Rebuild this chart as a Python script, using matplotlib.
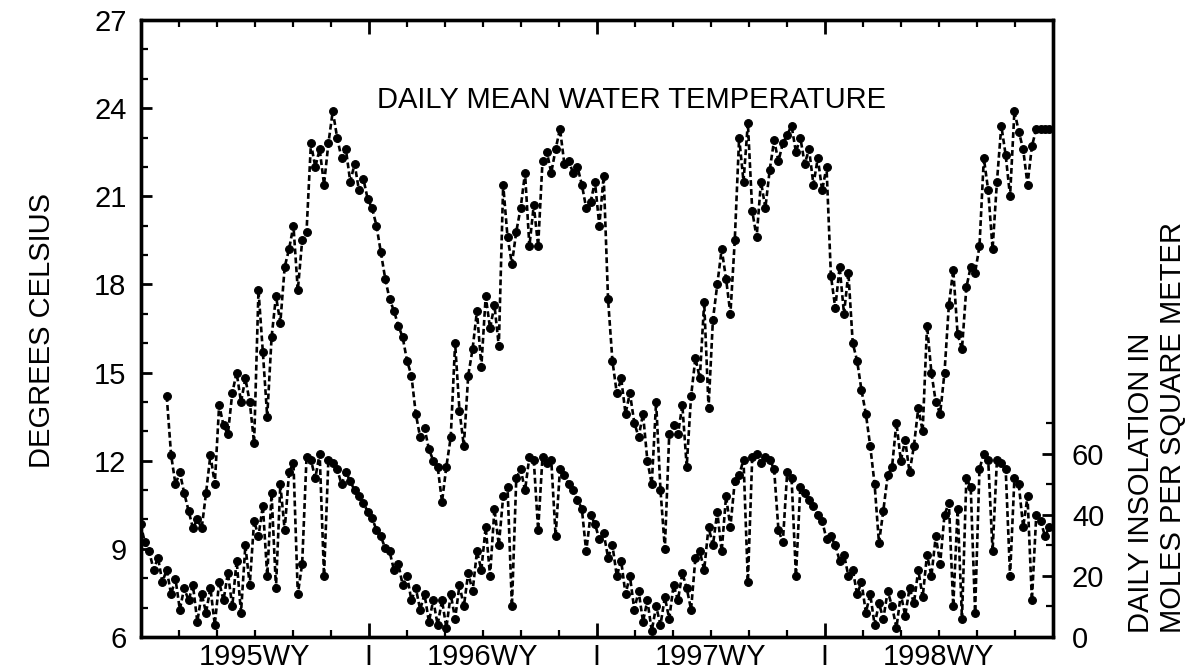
import matplotlib
matplotlib.use("Agg")
import matplotlib.pyplot as plt
import numpy as np
from matplotlib import font_manager as fm
from matplotlib.ticker import FixedLocator, MultipleLocator, NullFormatter
import matplotlib.transforms as mtransforms

# ---------------- data (weekly readings from the picture) ----------------
STEP_DAYS = 7                      # one value per week, day 0 = 1 Oct 1994
TEMP_START_WEEK = 6
INSOL_START_WEEK = 0

temperature_c = [
    14.2, 12.2, 11.2, 11.6, 10.9, 10.3, 9.7, 10.0, 9.7, 10.9,
    12.2, 11.2, 13.9, 13.2, 12.9, 14.3, 15.0, 14.0, 14.8, 14.0,
    12.6, 17.8, 15.7, 13.5, 16.2, 17.6, 16.7, 18.6, 19.2, 20.0,
    17.8, 19.5, 19.8, 22.8, 22.0, 22.6, 21.4, 22.8, 23.9, 23.0,
    22.3, 22.6, 21.5, 22.1, 21.2, 21.6, 20.9, 20.6, 20.0, 19.1,
    18.2, 17.5, 17.1, 16.6, 16.2, 15.4, 14.9, 13.6, 12.8, 13.1,
    12.4, 12.0, 11.8, 10.6, 11.8, 12.8, 16.0, 13.7, 12.5, 14.9,
    15.8, 17.1, 15.2, 17.6, 16.5, 17.3, 15.9, 21.4, 19.6, 18.7,
    19.8, 20.6, 21.8, 19.3, 20.7, 19.3, 22.2, 22.5, 21.8, 22.6,
    23.3, 22.1, 22.2, 21.8, 22.0, 21.4, 20.6, 20.8, 21.5, 20.0,
    21.7, 17.5, 15.4, 14.3, 14.8, 13.6, 14.3, 13.3, 12.8, 13.6,
    12.0, 11.2, 14.0, 11.0, 9.0, 12.9, 13.2, 12.9, 13.9, 11.8,
    14.2, 15.5, 14.8, 17.4, 13.8, 16.8, 18.0, 19.2, 18.2, 17.0,
    19.5, 23.0, 21.5, 23.5, 20.5, 19.6, 21.5, 20.6, 21.9, 22.9,
    22.2, 22.8, 23.1, 23.4, 22.5, 23.0, 22.1, 22.6, 21.4, 22.3,
    21.2, 22.0, 18.3, 17.2, 18.6, 17.0, 18.4, 16.0, 15.4, 14.4,
    13.6, 12.5, 11.2, 9.2, 10.3, 11.5, 11.8, 13.3, 12.0, 12.7,
    11.6, 12.5, 13.8, 13.0, 16.6, 15.0, 14.0, 13.6, 15.0, 17.3,
    18.5, 16.3, 15.8, 17.9, 18.6, 18.4, 19.3, 22.3, 21.2, 19.2,
    21.5, 23.4, 22.4, 21.0, 23.9, 23.2, 22.6, 21.4, 22.7, 23.3,
    23.3, 23.3, 23.3,
]

insolation_mol = [
    37, 31, 28, 22, 26, 18, 22, 14, 19, 9,
    16, 12, 17, 5, 14, 8, 16, 4, 18, 12,
    21, 10, 25, 8, 30, 17, 38, 33, 43, 20,
    47, 16, 50, 35, 54, 57, 14, 24, 59, 58,
    52, 60, 20, 58, 57, 55, 50, 54, 51, 48,
    46, 44, 41, 39, 35, 33, 29, 28, 22, 24,
    17, 20, 12, 16, 9, 14, 5, 12, 4, 12,
    3, 14, 6, 17, 10, 21, 15, 28, 22, 36,
    20, 42, 30, 46, 49, 10, 52, 55, 48, 59,
    58, 35, 59, 57, 58, 33, 55, 53, 50, 48,
    45, 42, 28, 40, 37, 32, 34, 26, 30, 20,
    25, 14, 20, 9, 15, 5, 12, 2, 10, 4,
    13, 6, 17, 12, 21, 16, 9, 26, 28, 22,
    36, 30, 41, 28, 46, 36, 51, 53, 58, 18,
    59, 60, 57, 59, 58, 55, 35, 31, 54, 52,
    20, 49, 47, 45, 43, 40, 38, 32, 33, 30,
    25, 27, 20, 22, 14, 18, 8, 14, 4, 11,
    6, 15, 10, 3, 14, 7, 16, 11, 22, 13,
    27, 20, 33, 24, 40, 44, 10, 42, 6, 52,
    49, 8, 55, 60, 58, 28, 58, 57, 55, 20,
    52, 50, 36, 46, 12, 40, 38, 33, 36,
]

water_years = ["1995WY", "1996WY", "1997WY", "1998WY"]
temp_ticks = [6, 9, 12, 15, 18, 21, 24, 27]
insol_ticks = [0, 20, 40, 60]

# ---------------- fonts ----------------
names = {f.name for f in fm.fontManager.ttflist}
base_font = "Liberation Sans" if "Liberation Sans" in names else "DejaVu Sans"
narrow_font = "Liberation Sans Narrow" if "Liberation Sans Narrow" in names else base_font
plt.rcParams["font.family"] = [base_font, "DejaVu Sans"]

W, H = 1195, 670
fig = plt.figure(figsize=(W / 100, H / 100), dpi=100)
L, R, T, B = 140.5, 1052.5, 20, 637
ax = fig.add_axes([L / W, 1 - B / H, (R - L) / W, (B - T) / H])

days_per_year = 365.25
n_years = len(water_years)

temp_days = STEP_DAYS * (TEMP_START_WEEK + np.arange(len(temperature_c)))
insol_days = STEP_DAYS * (INSOL_START_WEEK + np.arange(len(insolation_mol)))

line_kw = dict(color="black", lw=1.9, ls=(0, (2.2, 1.2)), marker="o",
               ms=5.6, mfc="black", mec="black", mew=0.8)
ax.plot(temp_days, temperature_c, **line_kw)
ax.set_xlim(0, n_years * days_per_year)
ax.set_ylim(6, 27)

ax2 = ax.twinx()
ax2.plot(insol_days, insolation_mol, **line_kw)
ax2.set_ylim(0, 202)

for a in (ax, ax2):
    for s in a.spines.values():
        s.set_linewidth(2.4)

# x ticks: every two months, longer at water-year boundaries
ax.xaxis.set_major_locator(FixedLocator([days_per_year * k for k in range(n_years + 1)]))
ax.xaxis.set_minor_locator(FixedLocator([days_per_year / 6 * k for k in range(6 * n_years + 1)]))
ax.xaxis.set_major_formatter(NullFormatter())
ax.tick_params(axis="x", which="major", direction="in", length=10, width=2, top=True, bottom=True)
ax.tick_params(axis="x", which="minor", direction="in", length=5, width=1.6, top=True, bottom=True)

ax.yaxis.set_major_locator(FixedLocator(temp_ticks))
ax.yaxis.set_minor_locator(MultipleLocator(1))
ax.tick_params(axis="y", which="major", direction="in", length=8, width=2, labelsize=21, pad=10)
ax.tick_params(axis="y", which="minor", direction="in", length=5, width=1.6)

ax2.yaxis.set_major_locator(FixedLocator(insol_ticks))
ax2.yaxis.set_minor_locator(FixedLocator([10, 30, 50, 70]))
ax2.tick_params(axis="y", which="major", direction="in", length=8, width=2, labelsize=21, pad=14)
ax2.tick_params(axis="y", which="minor", direction="in", length=5, width=1.6)

# water-year labels and separators
trans = mtransforms.blended_transform_factory(ax.transData, ax.transAxes)
for k, name in enumerate(water_years):
    ax.text(days_per_year * (k + 0.5), -0.01, name, transform=trans,
            ha="center", va="top", fontsize=21)
for k in range(1, n_years):
    ax.text(days_per_year * k, -0.01, "I", transform=trans,
            ha="center", va="top", fontsize=21)

# titles and axis labels
ax.text((632 - L) / (R - L), (B - 100) / (B - T), "DAILY MEAN WATER TEMPERATURE",
        transform=ax.transAxes, ha="center", va="center", fontsize=21, family=narrow_font)
fig.text(42 / W, 1 - 330 / H, "DEGREES CELSIUS", rotation=90, ha="center", va="center",
         fontsize=21, family=narrow_font)
fig.text(1141 / W, 1 - 633 / H, "DAILY INSOLATION IN", rotation=90, ha="center", va="bottom",
         fontsize=21, family=narrow_font)
fig.text(1173 / W, 1 - 633 / H, "MOLES PER SQUARE METER", rotation=90, ha="center", va="bottom",
         fontsize=21, family=narrow_font)

fig.savefig("out.png", dpi=100)
